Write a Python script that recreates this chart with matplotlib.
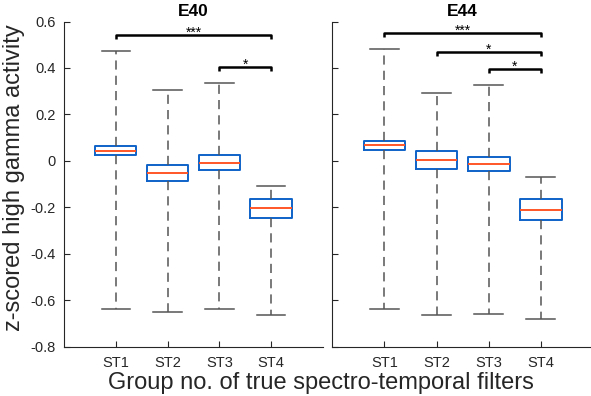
import matplotlib
matplotlib.use("Agg")
import matplotlib.pyplot as plt

plt.rcParams['font.family'] = ['Liberation Sans', 'DejaVu Sans']

groups = ['ST1', 'ST2', 'ST3', 'ST4']
panels = ['E40', 'E44']

# box stats per panel: whisker low, q1, median, q3, whisker high
whislo = {'E40': [-0.639, -0.649, -0.638, -0.663],
          'E44': [-0.639, -0.663, -0.659, -0.681]}
q1 = {'E40': [0.027, -0.085, -0.039, -0.246],
      'E44': [0.047, -0.035, -0.045, -0.254]}
med = {'E40': [0.044, -0.052, -0.008, -0.203],
       'E44': [0.068, 0.004, -0.015, -0.210]}
q3 = {'E40': [0.063, -0.018, 0.024, -0.164],
      'E44': [0.087, 0.042, 0.017, -0.165]}
whishi = {'E40': [0.473, 0.305, 0.337, -0.108],
          'E44': [0.482, 0.293, 0.328, -0.071]}

# significance brackets: (from group, to group, height, label)
sig = {'E40': [(1, 4, 0.543, '***'), (3, 4, 0.405, '*')],
       'E44': [(1, 4, 0.552, '***'), (2, 4, 0.469, '*'), (3, 4, 0.396, '*')]}

yticks = [-0.8, -0.6, -0.4, -0.2, 0, 0.2, 0.4, 0.6]
ytick_labels = ['-0.8', '-0.6', '-0.4', '-0.2', '0', '0.2', '0.4', '0.6']

box_col = '#0e62c8'
med_col = '#ff5626'
whisk_col = '#555555'
txt_col = '#262626'

fig = plt.figure(figsize=(5.91, 3.96), dpi=100)
ax1 = fig.add_axes([0.1083, 0.1245, 0.438, 0.8212])
ax2 = fig.add_axes([0.5623, 0.1245, 0.441, 0.8212])

for ax, name in zip([ax1, ax2], panels):
    stats = []
    for i in range(len(groups)):
        stats.append({'whislo': whislo[name][i], 'q1': q1[name][i],
                      'med': med[name][i], 'q3': q3[name][i],
                      'whishi': whishi[name][i], 'fliers': []})
    ax.bxp(stats, positions=[1, 2, 3, 4], widths=0.8, showfliers=False,
           boxprops=dict(color=box_col, linewidth=1.4),
           medianprops=dict(color=med_col, linewidth=1.4),
           whiskerprops=dict(color=whisk_col, linewidth=1.1, linestyle=(0, (6, 4))),
           capprops=dict(color=whisk_col, linewidth=1.1),
           capwidths=0.55)

    for a, b, h, lab in sig[name]:
        ax.plot([a, a, b, b], [h - 0.017, h, h, h - 0.017], color='black',
                linewidth=1.8, solid_capstyle='butt', clip_on=False)
        ax.text((a + b) / 2, h - 0.022, lab, ha='center', va='bottom',
                fontsize=10, color='black')

    ax.set_xlim(0, 5)
    ax.set_ylim(-0.8, 0.6)
    ax.set_xticks([1, 2, 3, 4])
    ax.set_xticklabels(groups)
    ax.set_yticks(yticks)
    ax.tick_params(direction='in', length=4, width=0.8, colors=txt_col,
                   labelsize=10.5, pad=6)
    ax.tick_params(axis='x', pad=7)
    ax.spines['top'].set_visible(False)
    ax.spines['right'].set_visible(False)
    for s in ['left', 'bottom']:
        ax.spines[s].set_color(txt_col)
        ax.spines[s].set_linewidth(0.8)
    ax.set_title(name, fontsize=12.5, fontweight='bold', pad=4)

ax1.set_yticklabels(ytick_labels)
ax2.set_yticklabels([])
ax1.set_ylabel('z-scored high gamma activity', fontsize=17, color=txt_col)
ax1.yaxis.set_label_coords(-0.15, 0.52)
fig.text(0.543, 0.018, 'Group no. of true spectro-temporal filters', ha='center',
         fontsize=17, color=txt_col)

fig.savefig('out.png', dpi=100)
